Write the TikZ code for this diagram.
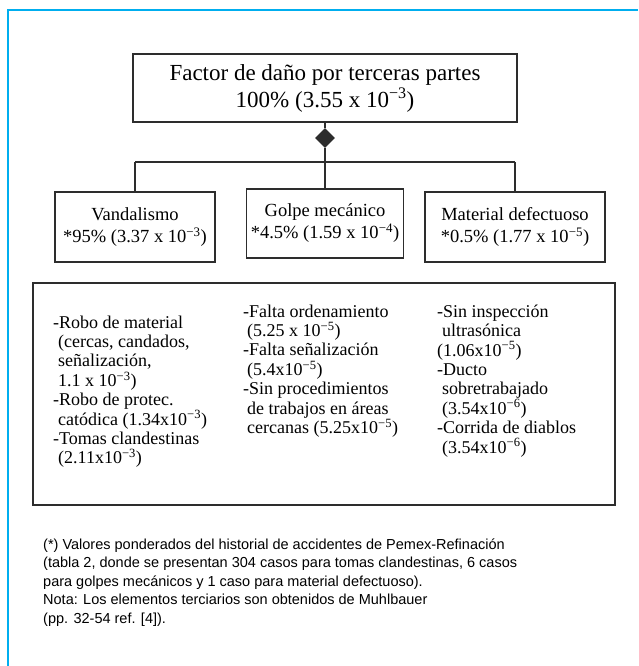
\documentclass[tikz,border=0pt]{standalone}
\usepackage{fontspec}
\setmainfont{Liberation Serif}
\newfontfamily\notefont{Liberation Sans}
\usetikzlibrary{shapes.geometric}
\definecolor{framecol}{RGB}{0,174,239}
\definecolor{ink}{RGB}{45,45,45}
\tikzset{
  box/.style={draw=ink, line width=1.2pt, inner sep=0pt, align=center},
  conn/.style={draw=ink, line width=1.2pt},
  coltext/.style={anchor=north west, inner sep=0pt, align=left, font=\fontsize{18}{19.4}\selectfont},
  secfont/.style={font=\fontsize{18.5}{22}\selectfont}
}
\begin{document}
\begin{tikzpicture}[x=1pt,y=-1pt]
\useasboundingbox (0,0) rectangle (638,666);
\draw[framecol, line width=1.8pt] (8,666) -- (8,10) -- (638,10);

\node[box, minimum width=384pt, minimum height=68pt, font=\fontsize{23}{27}\selectfont] (top) at (325,88)
  {Factor de daño por terceras partes\\100\% (3.55 x 10\textsuperscript{−3})};
\node[diamond, fill=ink, minimum width=20pt, minimum height=20pt, inner sep=0pt] (dia) at (325,138) {};
\coordinate (hl) at (135,162);
\coordinate (hm) at (325,162);
\coordinate (hr) at (515,162);

\node[box, secfont, minimum width=160pt, minimum height=70pt] (van) at (135,227)
  {Vandalismo\\*95\% (3.37 x 10\textsuperscript{−3})};
\node[box, secfont, minimum width=157pt, minimum height=69pt] (gol) at (325,223.5)
  {Golpe mecánico\\*4.5\% (1.59 x 10\textsuperscript{−4})};
\node[box, secfont, minimum width=180pt, minimum height=70pt] (mat) at (515,227)
  {Material defectuoso\\*0.5\% (1.77 x 10\textsuperscript{−5})};

\draw[conn] (top.south) -- (dia.north);
\draw[conn] (dia.south) -- (hm);
\draw[conn] (hl) -- (hr);
\draw[conn] (hl) -- (van.north);
\draw[conn] (hm) -- (gol.north);
\draw[conn] (hr) -- (mat.north);

\node[draw=ink, line width=1.2pt, minimum width=582pt, minimum height=222pt, inner sep=0pt] (big) at (324,394) {};

\node[coltext] (c1) at (53,315.5) {-Robo de material\\
\hspace*{5pt}(cercas, candados,\\
\hspace*{5pt}señalización,\\
\hspace*{5pt}1.1 x 10\textsuperscript{−3})\\
-Robo de protec.\\
\hspace*{5pt}catódica (1.34x10\textsuperscript{−3})\\
-Tomas clandestinas\\
\hspace*{5pt}(2.11x10\textsuperscript{−3})};

\node[coltext] (c2) at (243,304.5) {-Falta ordenamiento\\
\hspace*{4pt}(5.25 x 10\textsuperscript{−5})\\
-Falta señalización\\
\hspace*{4pt}(5.4x10\textsuperscript{−5})\\
-Sin procedimientos\\
\hspace*{4pt}de trabajos en áreas\\
\hspace*{4pt}cercanas (5.25x10\textsuperscript{−5})};

\node[coltext] (c3) at (437,304.5) {-Sin inspección\\
\hspace*{5pt}ultrasónica\\
(1.06x10\textsuperscript{−5})\\
-Ducto\\
\hspace*{5pt}sobretrabajado\\
\hspace*{5pt}(3.54x10\textsuperscript{−6})\\
-Corrida de diablos\\
\hspace*{5pt}(3.54x10\textsuperscript{−6})};

\node[anchor=north west, inner sep=0pt, align=left, font=\notefont\fontsize{14.5}{18.5}\selectfont] (notes) at (43,538.5)
{(*) Valores ponderados del historial de accidentes de Pemex-Refinación\\
(tabla 2, donde se presentan 304 casos para tomas clandestinas, 6 casos\\
para golpes mecánicos y 1 caso para material defectuoso).\\
Nota: Los elementos terciarios son obtenidos de Muhlbauer\\
(pp. 32-54 ref. [4]).};
\end{tikzpicture}
\end{document}
